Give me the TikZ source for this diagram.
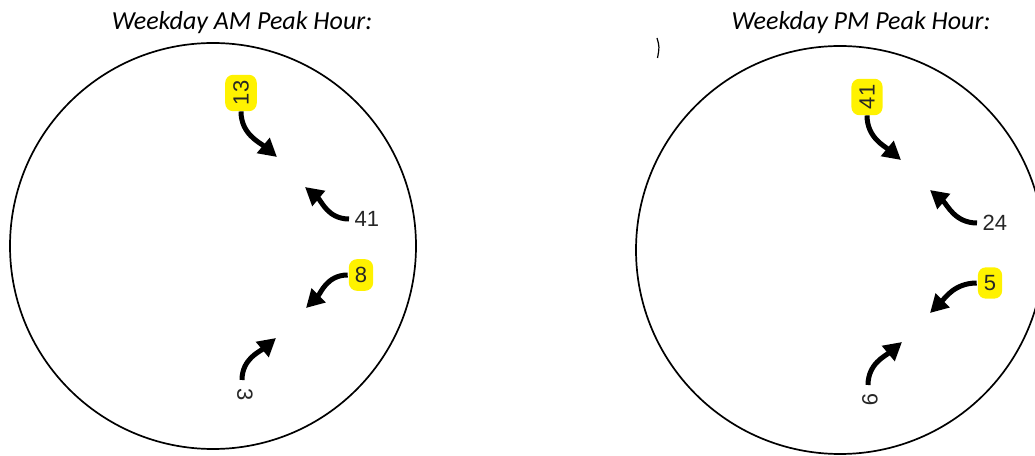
\documentclass[tikz,border=0pt]{standalone}
\usepackage{fontspec}
\setmainfont{Liberation Sans}
\newfontfamily\titlefont{Carlito}
\usetikzlibrary{arrows.meta}
\begin{document}
\begin{tikzpicture}[x=1pt,y=1pt,
  ring/.style={line width=1.7pt, draw=black},
  lbl/.style={font=\fontsize{22}{22}\selectfont, text=black!85, inner sep=1.5pt},
  hl/.style={lbl, fill=yellow, rounded corners=8pt, inner xsep=6pt, inner ysep=8pt},
  arr/.style={line width=5pt, -{Triangle[length=18pt,width=19pt]}, black},
  ttl/.style={font=\titlefont\itshape\fontsize{26}{26}\selectfont, inner sep=0pt}]
\useasboundingbox (0,0) rectangle (1035,455);

% titles
\node[ttl] (tam) at (242,432) {Weekday AM Peak Hour:};
\node[ttl] (tpm) at (861,432) {Weekday PM Peak Hour:};

% rings
\draw[ring] (213,209) circle[radius=203];
\draw[ring] (840,205) circle[radius=204];
\draw[line width=1.2pt] (657,417) .. controls (659.5,408) .. (657.5,397);

% ---------- AM ----------
\node[hl, rotate=90] (am13) at (241,362) {13};
\node[lbl, anchor=west] (am41) at (353,236) {41};
\node[hl] (am8) at (361,180) {8};
\node[lbl, rotate=-90, anchor=west] (am3) at (245,68) {3};
\coordinate (am1t) at (277,298);
\coordinate (am2t) at (305,268);
\coordinate (am3t) at (306,147);
\coordinate (am4t) at (276,117);
\draw[arr] (am13.west) to[out=-90,in=140] (am1t);
\draw[arr] ([xshift=-4pt]am41.west) to[out=180,in=-40] (am2t);
\draw[arr] ([xshift=-1pt]am8.west) to[out=180,in=45] (am3t);
\draw[arr] ([shift={(-3pt,7pt)}]am3.west) to[out=90,in=-140] (am4t);

% ---------- PM ----------
\node[hl, rotate=90] (pm41) at (867,358) {41};
\node[lbl, anchor=west] (pm24) at (981,232) {24};
\node[hl] (pm5) at (990,172) {5};
\node[lbl, rotate=-90, anchor=west] (pm9) at (870,63) {9};
\coordinate (pm1t) at (901,295);
\coordinate (pm2t) at (930,265);
\coordinate (pm3t) at (930,142);
\coordinate (pm4t) at (902,113);
\draw[arr] (pm41.west) to[out=-90,in=140] (pm1t);
\draw[arr] ([xshift=-4pt]pm24.west) to[out=180,in=-40] (pm2t);
\draw[arr] ([xshift=-1pt]pm5.west) to[out=180,in=45] (pm3t);
\draw[arr] ([shift={(-2pt,7pt)}]pm9.west) to[out=90,in=-140] (pm4t);
\end{tikzpicture}
\end{document}
